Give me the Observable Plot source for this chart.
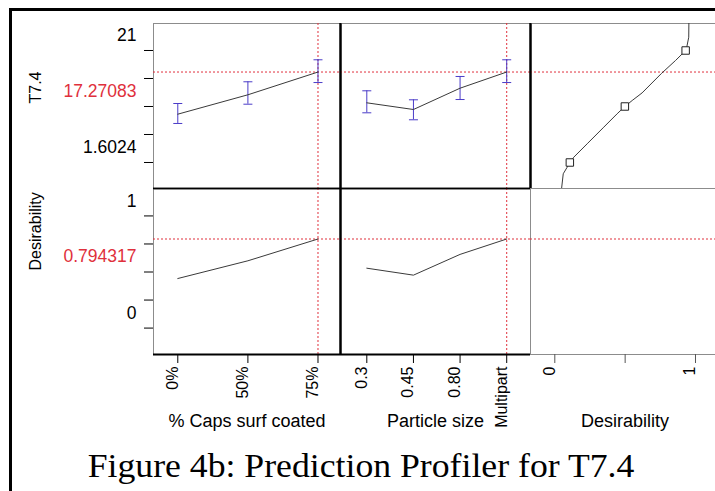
<!DOCTYPE html>
<html>
<head>
<meta charset="utf-8">
<script src="https://cdn.jsdelivr.net/npm/d3@7"></script>
<script src="https://cdn.jsdelivr.net/npm/@observablehq/plot@0.6"></script>
<style>
  html, body { margin: 0; padding: 0; background: white; overflow: hidden; }
  #page { position: relative; width: 715px; height: 491px; overflow: hidden; }
  #border { position: absolute; left: 9px; top: 8px; width: 900px; height: 700px; border: 3px solid black; }
  #caption { position: absolute; left: 0; top: 449px; width: 722px; text-align: center; line-height: 34px;
    font-family: "Liberation Serif", "Times New Roman", serif; font-size: 34px; transform: scaleX(1.05); }
  #page svg { position: absolute; }
</style>
</head>
<body>
<div id="page">
  <div id="border"></div>
  <div id="caption">Figure 4b: Prediction Profiler for T7.4</div>
</div>
<script>
const capsLevels = ["0%", "50%", "75%"];
const capsMean = [9.97, 13.33, 17.27083];
const capsLow = [8.36, 11.70, 15.45];
const capsHigh = [11.82, 15.58, 19.39];
const capsDesir = [0.442, 0.600, 0.794317];

const sizeLevels = ["0.3", "0.45", "0.80", "Multipart"];
const sizeMean = [11.94, 10.78, 14.47, 17.27083];
const sizeLow = [10.21, 9.00, 12.51, 15.45];
const sizeHigh = [14.02, 12.46, 16.50, 19.39];
const sizeDesir = [0.534, 0.472, 0.657, 0.794317];

// desirability function (desirability on x, T7.4 on y)
const desCurveD = [0.048, 0.060, 0.088, 0.107, 0.135, 0.230, 0.348, 0.443, 0.498, 0.550, 0.620, 0.757, 0.858, 0.930, 0.938, 0.952, 0.953];
const desCurveT = [-2.95, -0.35, 0.79, 1.6024, 2.52, 4.84, 7.72, 10.04, 11.3012, 12.34, 13.65, 17.0, 19.27, 21, 21.6, 23.3, 25.7];
const desHandleD = [0.107, 0.498, 0.930];
const desHandleT = [1.6024, 11.3012, 21];

// current settings
const currentCaps = "75%";
const currentSize = "Multipart";
const currentT = 17.27083;
const currentDes = 0.794317;

// tick values and labels
const tTicks = [1.6024, 6.4518, 11.3012, 16.1506, 21];
const tTickLabels = ["1.6024", "", "", "", "21"];
const desTicks = [0, 0.25, 0.5, 0.75, 1];
const desTickLabels = ["0", "", "", "", "1"];
const desAxisTicks = [0, 0.5, 1];
const desAxisLabels = ["0", "", "1"];

const caps = capsLevels.map((level, i) => ({i, level, mean: capsMean[i], low: capsLow[i], high: capsHigh[i], des: capsDesir[i]}));
const sizes = sizeLevels.map((level, i) => ({i, level, mean: sizeMean[i], low: sizeLow[i], high: sizeHigh[i], des: sizeDesir[i]}));
const curve = desCurveD.map((d, i) => ({d, t: desCurveT[i]}));
const handles = desHandleD.map((d, i) => ({d, t: desHandleT[i]}));

const red = "#e0303c";
const blue = "#4b3cc8";
const gray = "#8c8c8c";
const ink = "#3a3a3a";
const font = "'Liberation Sans', Arial, sans-serif";

// horizontal cap for the error bars
const capSymbol = {
  draw(context, size) {
    const r = Math.sqrt(size / Math.PI);
    context.moveTo(-r, 0);
    context.lineTo(r, 0);
  }
};

// panel grid (frame positions on the page)
const cols = [
  {left: 153, width: 187, domain: [-0.3466, 2.321]},
  {left: 340, width: 190, domain: [-0.564, 3.510]},
  {left: 530, width: 189, domain: [-0.1727, 1.1706]}
];
const rows = [
  {top: 23, height: 165, domain: [-2.9006, 25.676]},
  {top: 188, height: 166, domain: [-0.2355, 1.2446]}
];

const page = document.getElementById("page");

function panel(c, r, marks) {
  const col = cols[c], row = rows[r];
  const ml = c === 0 ? 153 : 2, mb = r === 1 ? 90 : 2;
  const chart = Plot.plot({
    width: ml + col.width + 2,
    height: 2 + row.height + mb,
    marginLeft: ml, marginRight: 2, marginTop: 2, marginBottom: mb,
    x: {domain: col.domain, axis: null},
    y: {domain: row.domain, axis: null},
    style: {background: "transparent", fontFamily: font, fontSize: "17.5px", color: "black"},
    marks
  });
  chart.style.left = (col.left - ml) + "px";
  chart.style.top = (row.top - 2) + "px";
  page.appendChild(chart);
}

const dashed = (w = 1) => ({stroke: red, strokeDasharray: "2,2", strokeWidth: w});
const black = (w) => ({stroke: "black", strokeWidth: w});

function yAxisMarks(ticks, labels, value, title, titleDy) {
  return [
    Plot.axisY({ticks, tickSize: 9, tickFormat: () => "", label: null}),
    Plot.text(ticks, {y: d => d, text: (d, i) => labels[i], frameAnchor: "left", textAnchor: "end", dx: -17, dy: -15}),
    Plot.text([value], {text: d => String(d), frameAnchor: "left", textAnchor: "end", dx: -17, dy: -15, fill: red}),
    Plot.text([title], {text: d => d, frameAnchor: "left", rotate: -90, dx: -118, dy: titleDy, fontSize: 16})
  ];
}

function xAxisMarks(ticks, labels, title, tickColor) {
  return [
    Plot.axisX({ticks, tickSize: 9, tickFormat: () => "", label: null, stroke: tickColor}),
    Plot.text(ticks, {x: d => d, text: (d, i) => labels[i], frameAnchor: "bottom", rotate: -90,
      textAnchor: "end", lineAnchor: "bottom", dy: 12, fontSize: 16}),
    Plot.text([title], {text: d => d, frameAnchor: "bottom", dy: 72, fontSize: 18})
  ];
}

// row 1, % Caps surf coated
panel(0, 0, [
  Plot.frame({stroke: gray}),
  Plot.ruleY([currentT], dashed()),
  Plot.ruleX([capsLevels.indexOf(currentCaps)], dashed()),
  Plot.ruleX(caps, {x: "i", y1: "low", y2: "high", stroke: blue}),
  Plot.dot(caps, {x: "i", y: "low", symbol: capSymbol, r: 4.5, stroke: blue, strokeWidth: 1}),
  Plot.dot(caps, {x: "i", y: "high", symbol: capSymbol, r: 4.5, stroke: blue, strokeWidth: 1}),
  Plot.line(caps, {x: "i", y: "mean", stroke: ink, strokeWidth: 1}),
  Plot.ruleX([cols[0].domain[1]], black(2)),
  Plot.ruleY([rows[0].domain[0]], black(1.5)),
  ...yAxisMarks(tTicks, tTickLabels, currentT, "T7.4", -2.5)
]);

// row 1, Particle size
panel(1, 0, [
  Plot.frame({stroke: gray}),
  Plot.ruleY([currentT], dashed()),
  Plot.ruleX([sizeLevels.indexOf(currentSize)], dashed()),
  Plot.ruleX(sizes, {x: "i", y1: "low", y2: "high", stroke: blue}),
  Plot.dot(sizes, {x: "i", y: "low", symbol: capSymbol, r: 4.5, stroke: blue, strokeWidth: 1}),
  Plot.dot(sizes, {x: "i", y: "high", symbol: capSymbol, r: 4.5, stroke: blue, strokeWidth: 1}),
  Plot.line(sizes, {x: "i", y: "mean", stroke: ink, strokeWidth: 1}),
  Plot.ruleX([cols[1].domain[0]], black(2)),
  Plot.ruleX([cols[1].domain[1]], black(2)),
  Plot.ruleY([rows[0].domain[0]], black(1.5))
]);

// row 1, desirability function
panel(2, 0, [
  Plot.frame({stroke: gray}),
  Plot.ruleY([currentT], dashed()),
  Plot.line(curve, {x: "d", y: "t", stroke: ink, strokeWidth: 1, clip: true}),
  Plot.dot(handles, {x: "d", y: "t", symbol: "square", r: 4.2, stroke: "#222", strokeWidth: 1, fill: "white"}),
  Plot.ruleX([cols[2].domain[0]], black(2))
]);

// row 2, desirability traces
panel(0, 1, [
  Plot.frame({stroke: gray}),
  Plot.ruleY([currentDes], dashed(1.2)),
  Plot.ruleX([capsLevels.indexOf(currentCaps)], dashed()),
  Plot.line(caps, {x: "i", y: "des", stroke: ink, strokeWidth: 1}),
  Plot.ruleX([cols[0].domain[1]], black(2)),
  Plot.ruleY([rows[1].domain[1]], black(1.5)),
  Plot.ruleY([rows[1].domain[0]], black(2)),
  ...yAxisMarks(desTicks, desTickLabels, currentDes, "Desirability", -1),
  ...xAxisMarks(caps.map(d => d.i), capsLevels, "% Caps surf coated", "black")
]);

panel(1, 1, [
  Plot.frame({stroke: gray}),
  Plot.ruleY([currentDes], dashed(1.2)),
  Plot.ruleX([sizeLevels.indexOf(currentSize)], dashed()),
  Plot.line(sizes, {x: "i", y: "des", stroke: ink, strokeWidth: 1}),
  Plot.ruleX([cols[1].domain[0]], black(2)),
  Plot.ruleY([rows[1].domain[1]], black(1.5)),
  Plot.ruleY([rows[1].domain[0]], black(2)),
  ...xAxisMarks(sizes.map(d => d.i), sizeLevels, "Particle size", "black")
]);

panel(2, 1, [
  Plot.frame({stroke: gray}),
  Plot.ruleY([currentDes], dashed(1.2)),
  ...xAxisMarks(desAxisTicks, desAxisLabels, "Desirability", "#555")
]);
</script>
</body>
</html>
